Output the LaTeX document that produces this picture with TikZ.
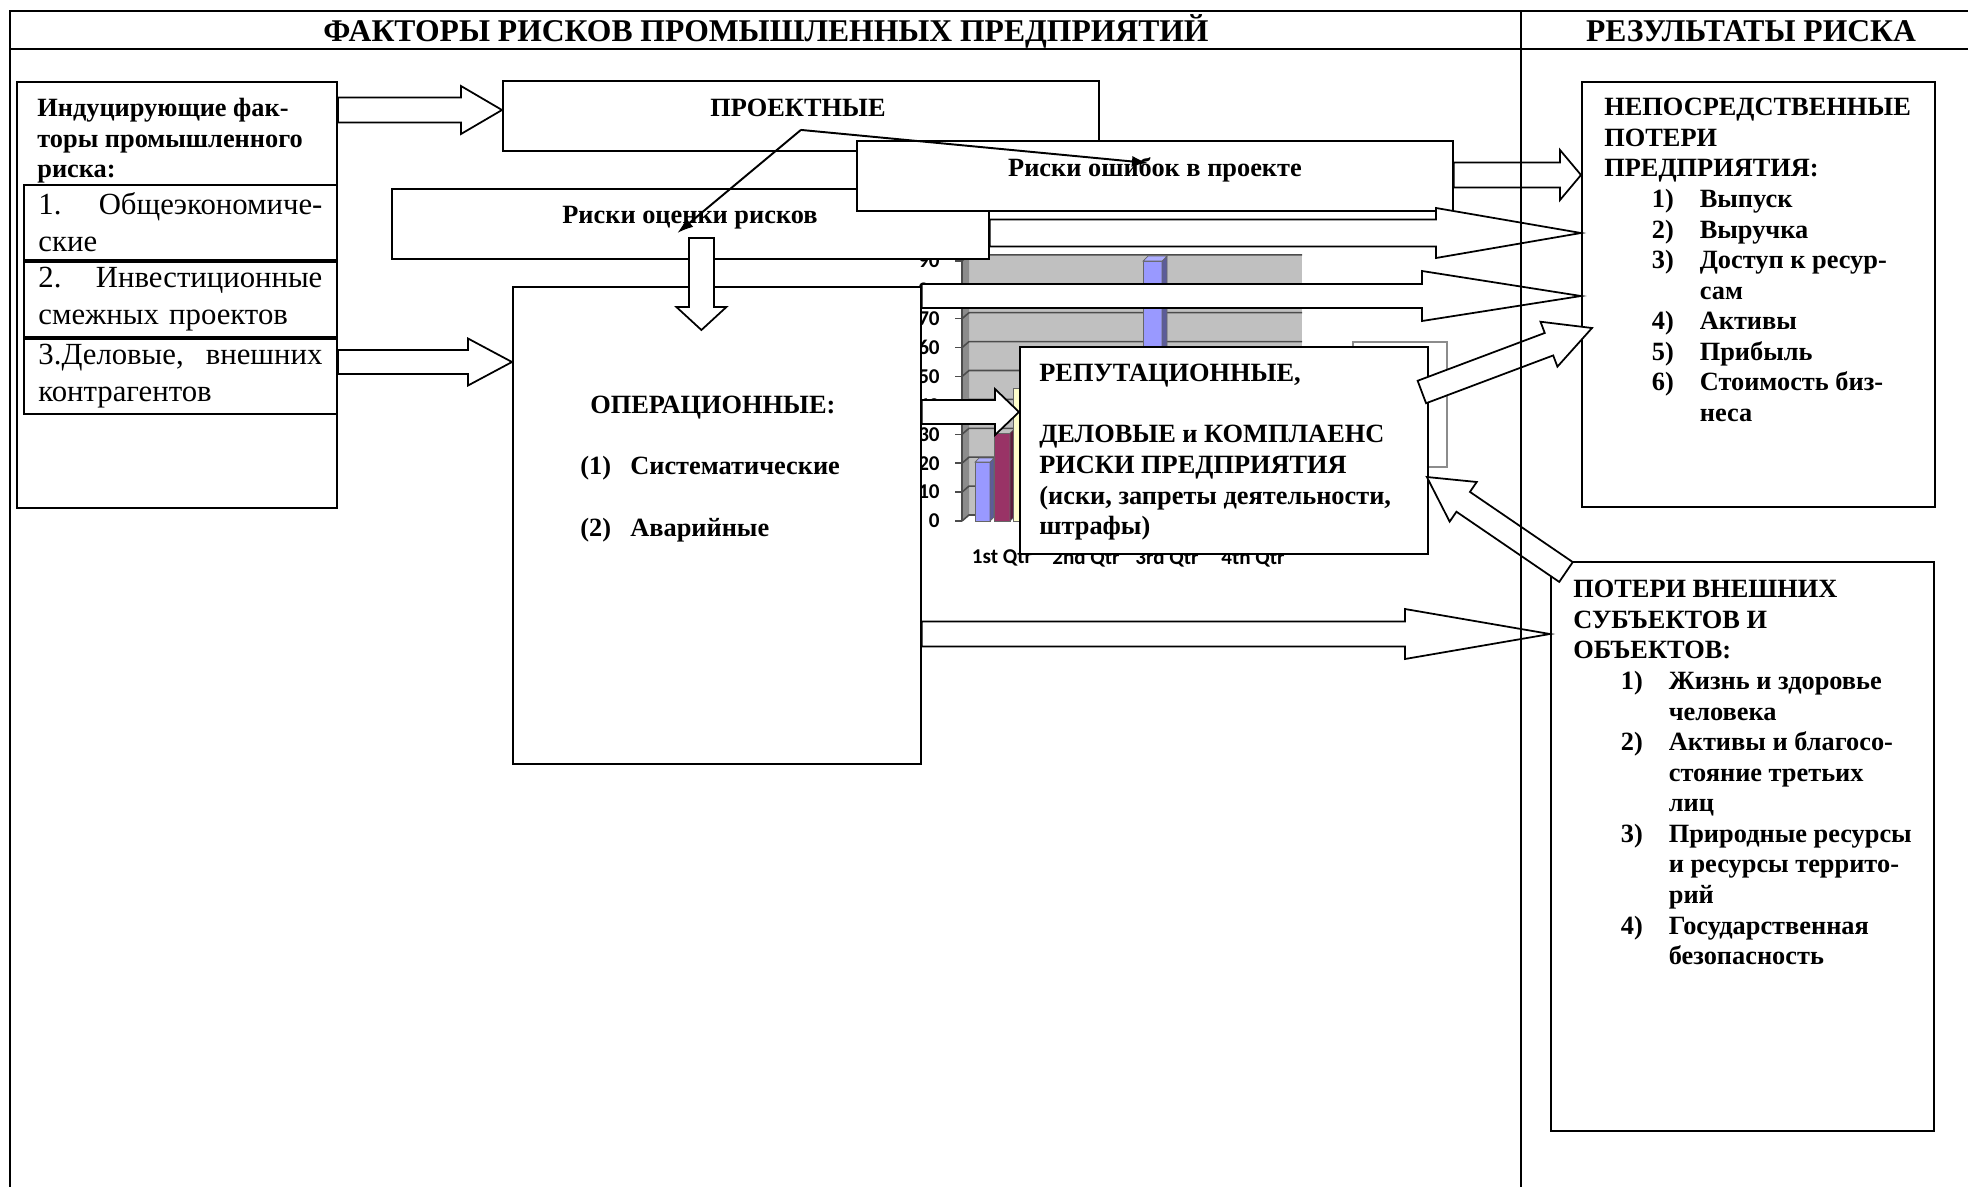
\documentclass[tikz,border=0pt]{standalone}
\usepackage{fontspec}
\setmainfont{Liberation Serif}
\newfontfamily\chartfont{Carlito}
\usepackage{xcolor}
\usetikzlibrary{arrows.meta, positioning, calc}
\definecolor{chartgray}{HTML}{C0C0C0}
\definecolor{bareast}{HTML}{9999FF}
\definecolor{barwest}{HTML}{993366}
\definecolor{barnorth}{HTML}{FFFFCC}
\tikzset{
  box/.style={rectangle, draw=black, line width=1.1pt, fill=white,
    anchor=north west, inner sep=0pt},
  rowbox/.style={box, text width=5.68cm, align=left, inner xsep=0.28cm,
    minimum width=6.26cm, minimum height=1.5cm, font=\fontsize{17.5}{21}\selectfont},
  boxtext/.style={anchor=north west, inner sep=0pt, align=left,
    font=\fontsize{15}{17.4}\selectfont\bfseries},
  headtext/.style={inner sep=0pt, font=\fontsize{18}{21}\selectfont\bfseries},
  blockarrow/.style={draw=black, line width=1pt, fill=white, line join=miter},
  arrowline/.style={-{Latex[length=3.2mm, width=2.2mm]}, line width=1.1pt},
  frameline/.style={line width=1.2pt},
  chartgrid/.style={draw=black!70, line width=0.9pt},
  barline/.style={draw=black!60, line width=0.4pt},
  chartlabel/.style={inner sep=0pt, text=black,
    font=\chartfont\bfseries\fontsize{12}{14}\selectfont}
}
% hollow block arrow: tail, tip, shaft half width, head half width, head length
\newcommand{\hollowarrow}[5]{%
  \path (#1) coordinate (ha-tail) (#2) coordinate (ha-tip);
  \path ($(ha-tip)!#5!(ha-tail)$) coordinate (ha-base);
  \draw[blockarrow] ($(ha-tail)!#3!90:(ha-tip)$) -- ($(ha-base)!#3!90:(ha-tip)$)
    -- ($(ha-base)!#4!90:(ha-tip)$) -- (ha-tip)
    -- ($(ha-base)!#4!-90:(ha-tip)$) -- ($(ha-base)!#3!-90:(ha-tip)$)
    -- ($(ha-tail)!#3!-90:(ha-tip)$) -- cycle;
}
\newcommand{\riskitem}[2]{\hspace*{0.95cm}\makebox[0.96cm][l]{#1}#2}
\newcommand{\riskcont}[1]{\hspace*{1.91cm}#1}

\begin{document}
\begin{tikzpicture}[x=0.02cm, y=-0.02cm]
  \useasboundingbox (0,0) rectangle (1968,1187);

  % chart left behind the boxes
  \fill[chartgray] (969,255) rectangle (1302,515);
  \fill[black!45] (962,261) -- (969,255) -- (969,515) -- (962,521) -- cycle;
  \foreach \k [evaluate=\k as \v using int(10*\k)] in {0,...,9} {
    \draw[chartgrid] (962,{521-28.9*\k}) -- (969,{515-28.9*\k}) -- (1302,{515-28.9*\k});
    \draw[chartgrid] (955,{521-28.9*\k}) -- (962,{521-28.9*\k});
    \node[chartlabel, anchor=east] (ytick\k) at (940,{521-28.9*\k}) {\v};
  }
  \draw[chartgrid] (962,261) -- (962,521);
  \filldraw[barline, fill=bareast] (975,462) rectangle (990,521);
  \filldraw[barline, fill=bareast!60!black] (990,462) -- (994,458) -- (994,517) -- (990,521) -- cycle;
  \filldraw[barline, fill=bareast!80] (975,462) -- (979,458) -- (994,458) -- (990,462) -- cycle;
  \filldraw[barline, fill=barwest] (994,433) rectangle (1010,521);
  \filldraw[barline, fill=barwest!60!black] (1010,433) -- (1014,429) -- (1014,517) -- (1010,521) -- cycle;
  \filldraw[barline, fill=barnorth] (1013,388) rectangle (1030,521);
  \filldraw[barline, fill=bareast] (1143,261) rectangle (1162,521);
  \filldraw[barline, fill=bareast!60!black] (1162,261) -- (1167,256) -- (1167,516) -- (1162,521) -- cycle;
  \filldraw[barline, fill=bareast!80] (1143,261) -- (1148,256) -- (1167,256) -- (1162,261) -- cycle;
  \foreach \q/\x in {1st/1002, 2nd/1086, 3rd/1167, 4th/1253}
    \node[chartlabel] (cat\q) at (\x,558) {\q\ Qtr};
  \filldraw[draw=black!45, fill=white, line width=0.6pt] (1353,342) rectangle (1447,467);

  % factors
  \node[box, minimum width=6.4cm, minimum height=8.52cm] (induce) at (16,81) {};
  \node[boxtext] (inducetext) at (37,98)
    {Индуцирующие фак-\\торы промышленного\\риска:};
  \node[rowbox] (row1) at (23,184) {1.\hfill Общеэкономиче-\\ские};
  \node[rowbox] (row2) at (row1.south west) {2.\hfill Инвестиционные\\смежных проектов};
  \node[rowbox] (row3) at (row2.south west) {3.Деловые,\hfill внешних\\контрагентов};

  % risk groups
  \node[box, minimum width=11.92cm, minimum height=1.4cm] (proj) at (502,80) {};
  \node[boxtext, anchor=base] (projtext) at (798,116) {ПРОЕКТНЫЕ};
  \node[box, minimum width=11.94cm, minimum height=1.4cm] (est) at (391,188) {};
  \node[boxtext, anchor=base] (esttext) at (690,223) {Риски оценки рисков};
  \node[box, minimum width=11.92cm, minimum height=1.4cm] (err) at (856,140) {};
  \node[boxtext, anchor=base] (errtext) at (1155,176) {Риски ошибок в проекте};
  \node[box, minimum width=8.16cm, minimum height=9.54cm] (op) at (512,286) {};
  \node[boxtext] (optext) at (580,396)
    {\hspace*{0.2cm}ОПЕРАЦИОННЫЕ:\\[17.4pt]\makebox[1cm][l]{(1)}Систематические\\[17.4pt]\makebox[1cm][l]{(2)}Аварийные};
  \node[box, minimum width=8.16cm, minimum height=4.14cm] (rep) at (1019,346) {};
  \node[boxtext] (reptext) at (1039,364)
    {РЕПУТАЦИОННЫЕ,\\[17.4pt]ДЕЛОВЫЕ и КОМПЛАЕНС\\РИСКИ ПРЕДПРИЯТИЯ\\(иски, запреты деятельности,\\штрафы)};

  % results
  \node[box, minimum width=7.06cm, minimum height=8.5cm] (direct) at (1581,81) {};
  \node[boxtext] (directtext) at (1604,98)
    {НЕПОСРЕДСТВЕННЫЕ\\ПОТЕРИ\\ПРЕДПРИЯТИЯ:\\
     \riskitem{1)}{Выпуск}\\\riskitem{2)}{Выручка}\\\riskitem{3)}{Доступ к ресур-}\\\riskcont{сам}\\
     \riskitem{4)}{Активы}\\\riskitem{5)}{Прибыль}\\\riskitem{6)}{Стоимость биз-}\\\riskcont{неса}};
  \node[box, minimum width=7.66cm, minimum height=11.38cm] (ext) at (1550,561) {};
  \node[boxtext] (exttext) at (1573,580)
    {ПОТЕРИ ВНЕШНИХ\\СУБЪЕКТОВ И\\ОБЪЕКТОВ:\\
     \riskitem{1)}{Жизнь и здоровье}\\\riskcont{человека}\\\riskitem{2)}{Активы и благосо-}\\\riskcont{стояние третьих}\\\riskcont{лиц}\\
     \riskitem{3)}{Природные ресурсы}\\\riskcont{и ресурсы террито-}\\\riskcont{рий}\\
     \riskitem{4)}{Государственная}\\\riskcont{безопасность}};

  % block arrows
  \coordinate (projin) at (proj.west |- 0,110);
  \coordinate (opin) at (op.west |- 0,362);
  \coordinate (directin1) at (direct.west |- 0,175);
  \coordinate (directin2) at (direct.west |- 0,233);
  \coordinate (directin3) at (direct.west |- 0,296);
  \coordinate (extin) at (ext.west |- 0,634);
  \coordinate (repin) at (rep.west |- 0,412);
  \coordinate (estout) at ($(est.south)+(11,-22)$);
  \coordinate (opin2) at (estout |- 0,330);
  \coordinate (repout) at ($(rep.north east)+(-7,46)$);
  \coordinate (directin4) at ($(direct.north west)+(11,247)$);
  \coordinate (extout) at ($(ext.north west)+(16,11)$);
  \coordinate (repin2) at ($(rep.north east)+(-2,131)$);
  \hollowarrow{induce.east |- projin}{projin}{0.25cm}{0.48cm}{0.82cm}
  \hollowarrow{row3.east |- opin}{opin}{0.24cm}{0.47cm}{0.88cm}
  \hollowarrow{err.east |- directin1}{directin1}{0.25cm}{0.5cm}{0.42cm}
  \hollowarrow{est.east |- directin2}{directin2}{0.27cm}{0.5cm}{2.9cm}
  \hollowarrow{op.east |- directin3}{directin3}{0.24cm}{0.5cm}{3.18cm}
  \hollowarrow{op.east |- extin}{extin}{0.25cm}{0.5cm}{2.9cm}
  \hollowarrow{op.east |- repin}{repin}{0.24cm}{0.46cm}{0.48cm}
  \hollowarrow{estout}{opin2}{0.25cm}{0.5cm}{0.46cm}
  \hollowarrow{repout}{directin4}{0.24cm}{0.48cm}{0.92cm}
  \hollowarrow{extout}{repin2}{0.24cm}{0.48cm}{0.88cm}

  % thin arrows out of the project risks
  \coordinate (fork) at ($(proj.south)+(0,-22)$);
  \draw[arrowline] (fork) -- ($(err.center)+(-7,-13)$);
  \draw[arrowline] (fork) -- ($(est.center)+(-13,9)$);

  % table frame
  \draw[frameline] (1968,11) -- (9.6,11) -- (9.6,1187);
  \draw[frameline] (9.6,49) -- (1968,49);
  \draw[frameline] (1521,11) -- (1521,1187);
  \node[headtext, anchor=base] (leftcol) at (766,41) {ФАКТОРЫ РИСКОВ ПРОМЫШЛЕННЫХ ПРЕДПРИЯТИЙ};
  \node[headtext, anchor=base] (rightcol) at (1751,41) {РЕЗУЛЬТАТЫ РИСКА};
\end{tikzpicture}
\end{document}
